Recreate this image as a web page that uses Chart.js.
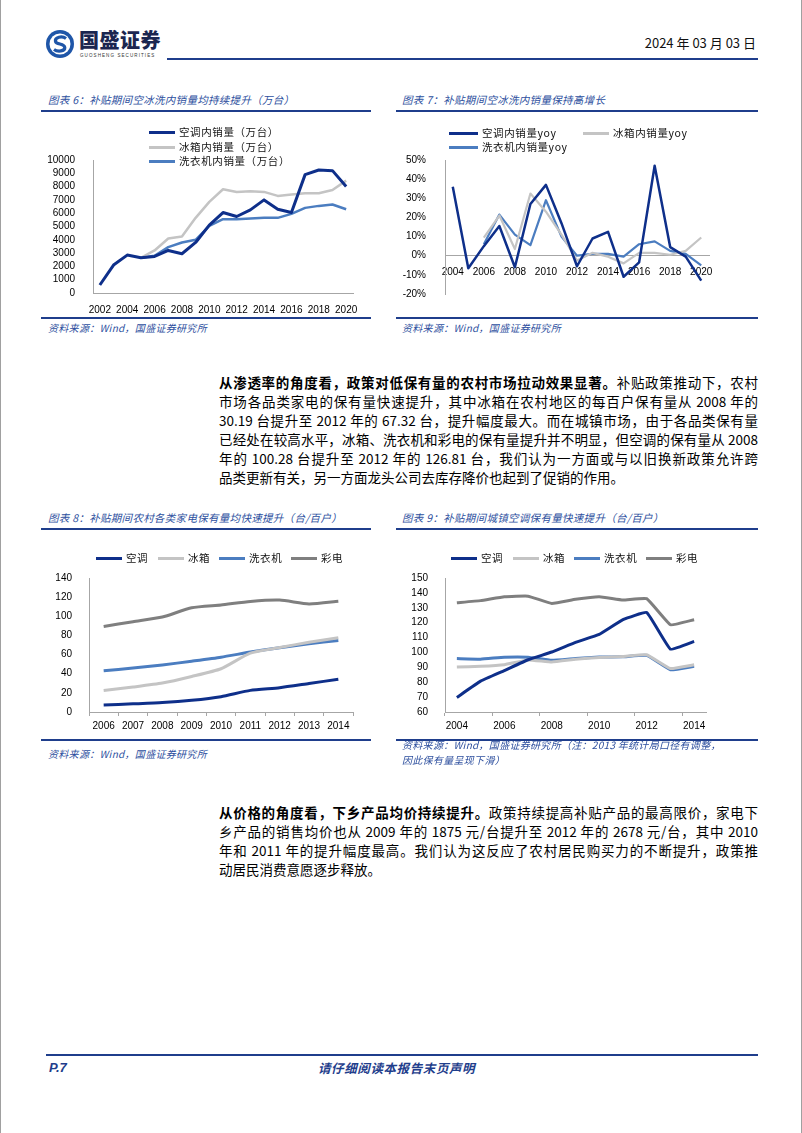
<!DOCTYPE html>
<html><head><meta charset="utf-8">
<script src="https://cdn.jsdelivr.net/npm/chart.js@4.4.1/dist/chart.umd.min.js"></script>
<style>
html,body{margin:0;padding:0;background:#fff;}
#page{position:relative;width:802px;height:1133px;overflow:hidden;font-family:"Noto Sans CJK SC","Noto Sans",sans-serif;box-sizing:border-box;border-left:1px solid #a0a0a0;border-right:1px solid #a0a0a0;color:#000;}
.a{position:absolute;white-space:nowrap;}
.title{position:absolute;font-size:10.5px;font-style:italic;color:#2d4f9e;white-space:nowrap;line-height:14px;letter-spacing:0.3px;}
.src{position:absolute;font-size:10px;font-style:italic;color:#2d4f9e;white-space:nowrap;line-height:14px;letter-spacing:0.3px;}
.rule{position:absolute;background:#1f3e8c;}
.ln{position:absolute;left:218px;width:539px;font-size:13.5px;line-height:19px;height:19px;text-align:justify;text-align-last:justify;white-space:nowrap;}
.ln.last{text-align-last:left;}
.lg{position:absolute;font-size:10.5px;line-height:14px;white-space:nowrap;letter-spacing:0.6px;color:#111;}
.lg i{display:inline-block;width:26px;height:3px;vertical-align:middle;margin-right:4px;position:relative;top:-1px;}
canvas{position:absolute;}
</style></head>
<body><div id="page">

<!-- header -->
<svg class="a" style="left:44px;top:29px" width="30" height="30" viewBox="0 0 30 30">
  <circle cx="15" cy="15" r="14" fill="#1f56a8"/>
  <circle cx="15" cy="15" r="10.5" fill="#fff"/>
  <path d="M21,9.5 C17,6.5 9.5,8 10.5,12.5 C11.5,16 19.5,14 19.8,18.5 C20,22.5 12.5,23 9,20.5" fill="none" stroke="#1f56a8" stroke-width="3.2"/>
</svg>
<div class="a" style="left:78px;top:28px;font-size:20px;font-weight:900;color:#1b2650;letter-spacing:0.5px;line-height:24px">国盛证券</div>
<div class="a" style="left:79px;top:53px;font-size:4.5px;letter-spacing:1.1px;color:#333;line-height:6px;font-family:'Liberation Sans'">GUOSHENG SECURITIES</div>
<div class="a" style="right:45px;top:34px;font-size:13px;line-height:18px;color:#111">2024 年 03 月 03 日</div>
<div class="rule" style="left:166px;top:58px;width:591px;height:2px"></div>

<!-- chart 6/7 titles -->
<div class="title" style="left:47px;top:93px">图表 6：补贴期间空冰洗内销量均持续提升（万台）</div>
<div class="rule" style="left:40px;top:110px;width:330px;height:2px"></div>
<div class="title" style="left:401px;top:93px">图表 7：补贴期间空冰洗内销量保持高增长</div>
<div class="rule" style="left:395px;top:110px;width:362px;height:2px"></div>

<canvas id="c6" width="330" height="200" style="left:40px;top:115px"></canvas>
<canvas id="c7" width="362" height="200" style="left:395px;top:115px"></canvas>

<div class="lg" style="left:148px;top:125px"><i style="background:#0e2f8a"></i>空调内销量（万台）</div>
<div class="lg" style="left:148px;top:140px"><i style="background:#c4c4c4"></i>冰箱内销量（万台）</div>
<div class="lg" style="left:148px;top:154px"><i style="background:#4b7dc0"></i>洗衣机内销量（万台）</div>

<div class="lg" style="left:448px;top:126px"><i style="background:#0e2f8a;width:29px"></i>空调内销量yoy</div>
<div class="lg" style="left:582px;top:126px"><i style="background:#c4c4c4"></i>冰箱内销量yoy</div>
<div class="lg" style="left:448px;top:140px"><i style="background:#4b7dc0;width:29px"></i>洗衣机内销量yoy</div>

<div class="rule" style="left:40px;top:317px;width:330px;height:1.5px"></div>
<div class="rule" style="left:395px;top:317px;width:362px;height:1.5px"></div>
<div class="src" style="left:47px;top:321px">资料来源：Wind，国盛证券研究所</div>
<div class="src" style="left:401px;top:321px">资料来源：Wind，国盛证券研究所</div>

<!-- paragraph 1 -->
<div class="ln" style="top:373px"><b>从渗透率的角度看，政策对低保有量的农村市场拉动效果显著。</b>补贴政策推动下，农村</div>
<div class="ln" style="top:392px">市场各品类家电的保有量快速提升，其中冰箱在农村地区的每百户保有量从 2008 年的</div>
<div class="ln" style="top:411px">30.19 台提升至 2012 年的 67.32 台，提升幅度最大。而在城镇市场，由于各品类保有量</div>
<div class="ln" style="top:430px">已经处在较高水平，冰箱、洗衣机和彩电的保有量提升并不明显，但空调的保有量从 2008</div>
<div class="ln" style="top:449px">年的 100.28 台提升至 2012 年的 126.81 台，我们认为一方面或与以旧换新政策允许跨</div>
<div class="ln last" style="top:468px">品类更新有关，另一方面龙头公司去库存降价也起到了促销的作用。</div>

<!-- chart 8/9 titles -->
<div class="title" style="left:47px;top:511px">图表 8：补贴期间农村各类家电保有量均快速提升（台/百户）</div>
<div class="rule" style="left:40px;top:528px;width:330px;height:2px"></div>
<div class="title" style="left:401px;top:511px">图表 9：补贴期间城镇空调保有量快速提升（台/百户）</div>
<div class="rule" style="left:395px;top:528px;width:362px;height:2px"></div>

<canvas id="c8" width="330" height="205" style="left:40px;top:535px"></canvas>
<canvas id="c9" width="362" height="205" style="left:395px;top:535px"></canvas>

<div class="lg" style="left:95px;top:551px"><i style="background:#0e2f8a"></i>空调</div>
<div class="lg" style="left:157px;top:551px"><i style="background:#c4c4c4"></i>冰箱</div>
<div class="lg" style="left:218px;top:551px"><i style="background:#4b7dc0"></i>洗衣机</div>
<div class="lg" style="left:290px;top:551px"><i style="background:#7f7f7f"></i>彩电</div>

<div class="lg" style="left:450px;top:551px"><i style="background:#0e2f8a"></i>空调</div>
<div class="lg" style="left:512px;top:551px"><i style="background:#c4c4c4"></i>冰箱</div>
<div class="lg" style="left:573px;top:551px"><i style="background:#4b7dc0"></i>洗衣机</div>
<div class="lg" style="left:645px;top:551px"><i style="background:#7f7f7f"></i>彩电</div>

<div class="rule" style="left:40px;top:739px;width:330px;height:1.5px"></div>
<div class="rule" style="left:395px;top:739px;width:362px;height:1.5px"></div>
<div class="src" style="left:47px;top:747px">资料来源：Wind，国盛证券研究所</div>
<div class="src" style="left:401px;top:738px">资料来源：Wind，国盛证券研究所（注：2013 年统计局口径有调整，</div>
<div class="src" style="left:401px;top:753px">因此保有量呈现下滑）</div>

<!-- paragraph 2 -->
<div class="ln" style="top:803px"><b>从价格的角度看，下乡产品均价持续提升。</b>政策持续提高补贴产品的最高限价，家电下</div>
<div class="ln" style="top:822px">乡产品的销售均价也从 2009 年的 1875 元/台提升至 2012 年的 2678 元/台，其中 2010</div>
<div class="ln" style="top:841px">年和 2011 年的提升幅度最高。我们认为这反应了农村居民购买力的不断提升，政策推</div>
<div class="ln last" style="top:860px">动居民消费意愿逐步释放。</div>

<!-- footer -->
<div class="rule" style="left:45px;top:1054px;width:712px;height:2px"></div>
<div class="a" style="left:48px;top:1059px;font-size:13px;font-weight:bold;font-style:italic;color:#1f3e8c;line-height:17px;font-family:'Liberation Sans'">P.7</div>
<div class="a" style="left:317px;top:1059px;font-size:12.5px;font-weight:bold;font-style:italic;color:#1f3e8c;line-height:17px;letter-spacing:0.6px">请仔细阅读本报告末页声明</div>

</div>
<script>
// ===== Chart 6: domestic sales (万台) =====
const years6 = ['2002','2003','2004','2005','2006','2007','2008','2009','2010','2011','2012','2013','2014','2015','2016','2017','2018','2019','2020'];
const acSales = [600,2100,2850,2650,2750,3200,2950,3800,5100,6050,5750,6250,7000,6300,6050,8900,9250,9200,8000];
const fridgeSales = [null,null,null,2650,3200,4100,4250,5650,6850,7800,7600,7650,7600,7300,7400,7500,7500,7750,8450];
const washerSales = [null,null,null,2650,2800,3450,3800,4000,5050,5550,5550,5600,5650,5650,5950,6400,6550,6650,6300];

// ===== Chart 7: yoy (%) =====
const years7 = ['2004','2005','2006','2007','2008','2009','2010','2011','2012','2013','2014','2015','2016','2017','2018','2019','2020'];
const acYoy = [36,-6.5,5,15.5,-6,27,37,17,-5.5,9,12.5,-11,-3.5,47,4.5,-0.5,-13];
const fridgeYoy = [null,null,9.5,21,3.5,32.5,23,11,-2.5,1.5,-0.5,-4,1.5,1.5,0.5,2.5,9.5];
const washerYoy = [null,null,6,21.5,11,5.5,29,10,0,1,1,-0.5,6,7.5,2.5,1,-5];

// ===== Chart 8: rural ownership per 100 households =====
const years8 = ['2006','2007','2008','2009','2010','2011','2012','2013','2014'];
const ruralAC = [7.3,8.5,9.8,12.2,16.0,22.6,25.4,29.8,34.2];
const ruralFridge = [22.5,26.1,30.2,37.1,45.2,61.5,67.3,72.9,77.6];
const ruralWasher = [43.0,45.9,49.1,53.1,57.3,62.6,67.2,71.2,74.8];
const ruralTV = [89.4,94.4,99.2,108.9,111.8,115.5,116.9,112.9,115.6];

// ===== Chart 9: urban ownership per 100 households =====
const years9 = ['2004','2005','2006','2007','2008','2009','2010','2011','2012','2013','2014'];
const urbanAC = [69.8,80.7,87.8,95.1,100.3,106.8,112.1,122.0,126.8,102.2,107.4];
const urbanFridge = [90.2,90.7,91.8,95.0,93.6,95.4,96.6,97.2,98.5,89.2,91.7];
const urbanWasher = [95.9,95.5,96.8,96.8,94.7,96.0,96.9,97.1,98.0,88.4,90.7];
const urbanTV = [133.4,134.8,137.4,137.8,132.9,135.7,137.4,135.2,136.1,118.6,122.0];

const C_DARK='#0e2f8a', C_LIGHT='#c4c4c4', C_MID='#4b7dc0', C_GRAY='#7f7f7f';
const AXIS='#a6a6a6';
const tickFont={family:'Liberation Sans',size:10};

function ds(label,data,color,w){return {label,data,borderColor:color,backgroundColor:color,borderWidth:w,pointRadius:0,fill:false,spanGaps:false};}

function make(id,labels,datasets,o){
  return new Chart(document.getElementById(id),{
    type:'line',
    data:{labels,datasets},
    options:{
      responsive:false,animation:false,events:[],
      layout:{padding:{left:0,right:o.padR,top:o.padT,bottom:o.padB||0}},
      plugins:{legend:{display:false},tooltip:{enabled:false}},
      elements:{line:{tension:o.tension||0,borderCapStyle:'butt',borderJoinStyle:'round'}},
      scales:{
        x:{
          type:'category',offset:true,position:o.xPos||'bottom',
          grid:{display:!!o.xTicks,drawOnChartArea:false,drawTicks:true,tickLength:4,offset:true,
                color:o.xTickColor||AXIS},
          border:{display:true,color:AXIS,width:1},
          ticks:{autoSkip:false,maxRotation:0,minRotation:0,padding:o.xPad,font:tickFont,color:'#000',
                 callback:function(v,i){return (i%o.every===0)?this.getLabelForValue(v):'';}},
          afterFit:function(s){s.height=o.xH;}
        },
        y:{
          min:o.min,max:o.max,
          grid:{display:false},
          border:{display:true,color:AXIS,width:1},
          ticks:{autoSkip:false,stepSize:o.step,padding:o.yPad,font:tickFont,color:'#000',
                 callback:o.yFmt||(v=>String(v))},
          afterFit:function(s){s.width=o.yW;}
        }
      }
    }
  });
}

make('c6',years6,[
  ds('空调内销量（万台）',acSales,C_DARK,3),
  ds('冰箱内销量（万台）',fridgeSales,C_LIGHT,2.5),
  ds('洗衣机内销量（万台）',washerSales,C_MID,2.5)
],{padR:18,padT:45,xH:22,yW:52,min:0,max:10000,step:1000,xPad:7,yPad:10,every:2});

make('c7',years7,[
  ds('空调内销量yoy',acYoy,C_DARK,2.5),
  ds('冰箱内销量yoy',fridgeYoy,C_LIGHT,2.2),
  ds('洗衣机内销量yoy',washerYoy,C_MID,2.2)
],{padR:49,padT:45,padB:21,xH:0,yW:49,min:-20,max:50,step:10,xPad:7,yPad:11,every:2,
   xPos:{y:0},yFmt:v=>v+'%'});

make('c8',years8,[
  ds('空调',ruralAC,C_DARK,3),
  ds('冰箱',ruralFridge,C_LIGHT,3),
  ds('洗衣机',ruralWasher,C_MID,3),
  ds('彩电',ruralTV,C_GRAY,3)
],{padR:18,padT:43,xH:28,yW:48,min:0,max:140,step:20,xPad:4,yPad:9,every:1,tension:0.2,xTicks:true});

make('c9',years9,[
  ds('空调',urbanAC,C_DARK,3),
  ds('冰箱',urbanFridge,C_LIGHT,3),
  ds('洗衣机',urbanWasher,C_MID,3),
  ds('彩电',urbanTV,C_GRAY,3)
],{padR:52,padT:43,xH:28,yW:49,min:60,max:150,step:10,xPad:4,yPad:9,every:2,tension:0.1,xTicks:true,
   xTickColor:ctx=>(ctx.index%2===0?AXIS:'rgba(0,0,0,0)')});
</script>
</body></html>
